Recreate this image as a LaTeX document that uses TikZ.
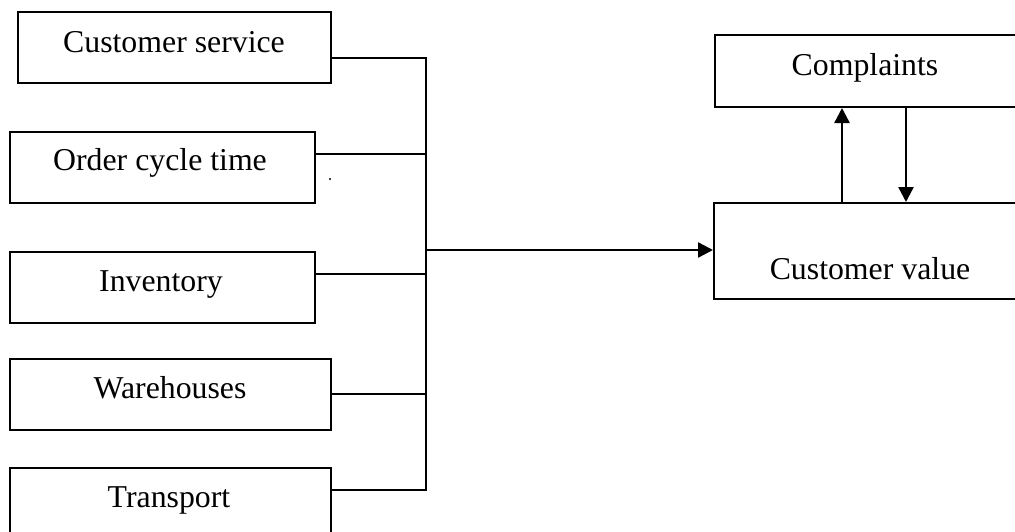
\documentclass[tikz,border=0pt]{standalone}
\usepackage{fontspec}
\setmainfont{Liberation Serif}
\usetikzlibrary{arrows.meta}

\tikzset{
  box/.style={draw, line width=2pt, rectangle, inner sep=0pt, anchor=north west},
  lbl/.style={anchor=base, inner sep=0pt, font=\fontsize{31.8}{38}\selectfont},
  wire/.style={line width=2pt},
  flow/.style={line width=2.4pt, -{Triangle[length=15pt,width=15pt]}},
}

\begin{document}
\begin{tikzpicture}[x=1pt, y=-1pt]
  \clip (0,0) rectangle (1015,531);
  \fill[white] (0,0) rectangle (1015,531);

  % factor boxes on the left
  \node[box, minimum width=313pt, minimum height=71pt] (cs)  at (17,11)  {};
  \node[box, minimum width=305pt, minimum height=71pt] (oct) at (9,131)  {};
  \node[box, minimum width=305pt, minimum height=71pt] (inv) at (9,251)  {};
  \node[box, minimum width=321pt, minimum height=71pt] (wh)  at (9,358)  {};
  \node[box, minimum width=321pt, minimum height=71pt] (tr)  at (9,467)  {};

  \node[lbl] (cs-t)  at (174,52)  {Customer service};
  \node[lbl] (oct-t) at (160,170) {Order cycle time};
  \node[lbl] (inv-t) at (161,291) {Inventory};
  \node[lbl] (wh-t)  at (170,398) {Warehouses};
  \node[lbl] (tr-t)  at (169,507) {Transport};

  % outcome boxes on the right
  \node[box, minimum width=320pt, minimum height=72pt] (cp) at (714,34)  {};
  \node[box, minimum width=320pt, minimum height=96pt] (cv) at (713,202) {};
  \node[lbl] (cp-t) at (865,75)  {Complaints};
  \node[lbl] (cv-t) at (870,279) {Customer value};

  % collecting bus
  \coordinate (j1)  at (426,58);
  \coordinate (j2)  at (426,154);
  \coordinate (j3)  at (426,274);
  \coordinate (j4)  at (426,394);
  \coordinate (j5)  at (426,490);
  \coordinate (hub) at (426,250);

  \draw[wire] (cs.east  |- j1) -- (j1);
  \draw[wire] (oct.east |- j2) -- (j2);
  \draw[wire] (inv.east |- j3) -- (j3);
  \draw[wire] (wh.east  |- j4) -- (j4);
  \draw[wire] (tr.east  |- j5) -- (j5);
  \draw[wire, line cap=rect] (j1) -- (j5);

  \draw[flow] (hub) -- (cv.west |- hub);

  % feedback between customer value and complaints
  \coordinate (upx)   at (842,0);
  \coordinate (downx) at (906,0);
  \draw[flow] (cv.north -| upx) -- (cp.south -| upx);
  \draw[flow] (cp.south -| downx) -- (cv.north -| downx);

  % stray dot
  \fill (330,179) circle (1.2pt);
\end{tikzpicture}
\end{document}
